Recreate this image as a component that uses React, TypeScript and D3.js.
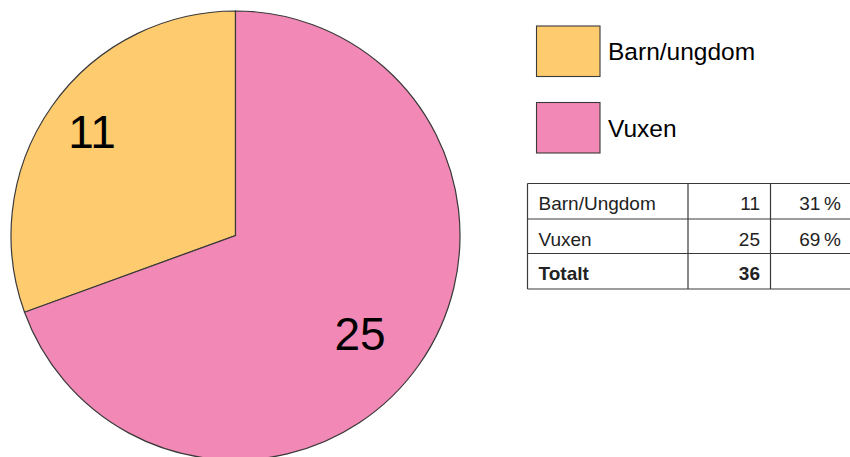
import React from "react";
import * as d3 from "d3";

const categories = ["Barn/ungdom", "Vuxen"];
const tableLabels = ["Barn/Ungdom", "Vuxen"];
const values = [11, 25];
const totalLabel = "Totalt";
const colors = ["#FECB6F", "#F288B5"];

const W = 850;
const H = 457;
const FONT = "'Liberation Sans', Arial, Helvetica, sans-serif";

export default function App() {
  const cx = 235.5;
  const cy = 235.5;
  const r = 224.5;
  const total = d3.sum(values);
  const start = -2 * Math.PI * (values[0] / total);
  const pie = d3
    .pie<number>()
    .sort(null)
    .value((d) => d)
    .startAngle(start)
    .endAngle(start + 2 * Math.PI);
  const arcs = pie(values);
  const arcGen = d3.arc<d3.PieArcDatum<number>>().innerRadius(0).outerRadius(r);
  const labelFactors = [0.789, 0.707];
  const labelNudge = [0.016, 0.058];
  const labelFs = 46;
  const pct = d3.format(".0f");

  // table layout
  const colX = [527.5, 688, 770.5, 860];
  const rowY = [183.5, 219, 253.5, 289];
  const rows = [
    ...tableLabels.map((l, i) => ({
      label: l,
      value: String(values[i]),
      pct: pct((values[i] / total) * 100) + "\u2009%",
      bold: false,
    })),
    { label: totalLabel, value: String(total), pct: "", bold: true },
  ];
  const stroke = "#3a3a3a";

  return (
    <svg
      width={W}
      height={H}
      style={{ position: "absolute", left: 0, top: 0, background: "#fff" }}
      fontFamily={FONT}
    >
      <g transform={`translate(${cx},${cy})`}>
        {arcs.map((a, i) => (
          <path key={i} d={arcGen(a) || ""} fill={colors[i]} stroke={stroke} strokeWidth={1.2} />
        ))}
        {arcs.map((a, i) => {
          const mid = (a.startAngle + a.endAngle) / 2 + labelNudge[i];
          const lr = r * labelFactors[i];
          const x = Math.sin(mid) * lr;
          const y = -Math.cos(mid) * lr;
          return (
            <text key={i} x={x} y={y + labelFs * 0.36} fontSize={labelFs} textAnchor="middle" fill="#000">
              {a.data}
            </text>
          );
        })}
      </g>

      {categories.map((c, i) => {
        const y0 = 26 + i * 76.5;
        return (
          <g key={c}>
            <rect x={536.5} y={y0} width={63.5} height={50.5} fill={colors[i]} stroke={stroke} strokeWidth={1.1} />
            <text x={608} y={y0 + 34} fontSize={24.5} fill="#000">
              {c}
            </text>
          </g>
        );
      })}

      <g>
        {rows.map((row, i) => {
          const base = rowY[i] + 26.5;
          return (
            <g key={i} fontSize={19} fontWeight={row.bold ? "bold" : "normal"} fill="#222">
              <text x={538.5} y={base}>{row.label}</text>
              <text x={760} y={base} textAnchor="end">{row.value}</text>
              <text x={841} y={base} textAnchor="end">{row.pct}</text>
            </g>
          );
        })}
        {rowY.map((y, i) => (
          <line key={"h" + i} x1={colX[0]} x2={colX[3]} y1={y} y2={y} stroke={stroke} strokeWidth={1.2} />
        ))}
        {colX.map((x, i) => (
          <line key={"v" + i} x1={x} x2={x} y1={rowY[0]} y2={rowY[rowY.length - 1]} stroke={stroke} strokeWidth={1.2} />
        ))}
      </g>
    </svg>
  );
}
